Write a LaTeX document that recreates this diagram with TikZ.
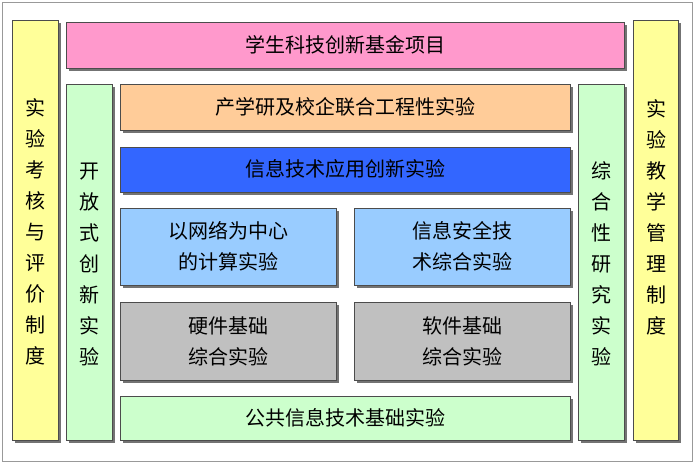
\documentclass[tikz,border=0pt]{standalone}
\usepackage{fontspec}
\setmainfont{Noto Sans CJK SC}
\usetikzlibrary{shadows}
\tikzset{every picture/.style={line width=0.75pt}}
\tikzset{
  blk/.style={draw=black!70,line width=0.6pt,drop shadow={shadow xshift=3pt,shadow yshift=-3pt,fill=black!55,opacity=1}},
  lbl/.style={inner sep=0pt,align=center,font=\fontsize{20}{31}\selectfont},
}
\begin{document}
\begin{tikzpicture}[x=1pt,y=1pt,yscale=-1,xscale=1]
		\useasboundingbox (0,0) rectangle (695,464);
		\draw[black!40,line width=0.8pt,fill=white] (2,2) rectangle (692,461);
		
		%side bars
		\draw[blk,fill={rgb,255:red,255;green,255;blue,153}] (12,20) rectangle (58,440);
		\draw[blk,fill={rgb,255:red,255;green,255;blue,153}] (633,20) rectangle (678,440);
		\draw[blk,fill={rgb,255:red,204;green,255;blue,204}] (66,84) rectangle (112,440);
		\draw[blk,fill={rgb,255:red,204;green,255;blue,204}] (578,84) rectangle (624,440);
		%horizontal bars
		\draw[blk,fill={rgb,255:red,255;green,153;blue,204}] (66,22) rectangle (624,68);
		\draw[blk,fill={rgb,255:red,255;green,204;blue,153}] (120,84) rectangle (570,130);
		\draw[blk,fill={rgb,255:red,51;green,102;blue,255}] (120,147) rectangle (570,192);
		\draw[blk,fill={rgb,255:red,153;green,204;blue,255}] (120,208) rectangle (336,285);
		\draw[blk,fill={rgb,255:red,153;green,204;blue,255}] (354,208) rectangle (570,285);
		\draw[blk,fill={rgb,255:red,192;green,192;blue,192}] (120,302) rectangle (336,380);
		\draw[blk,fill={rgb,255:red,192;green,192;blue,192}] (354,302) rectangle (570,380);
		\draw[blk,fill={rgb,255:red,204;green,255;blue,204}] (120,396) rectangle (570,440);
		
		\node[lbl] (kh) at (35,232) {实\\验\\考\\核\\与\\评\\价\\制\\度};
		\node[lbl] (gl) at (656,217) {实\\验\\教\\学\\管\\理\\制\\度};
		\node[lbl] (kf) at (89,264) {开\\放\\式\\创\\新\\实\\验};
		\node[lbl] (zh) at (601,264) {综\\合\\性\\研\\究\\实\\验};
		\node[lbl] (jj) at (345,45) {学生科技创新基金项目};
		\node[lbl] (cx) at (345,107) {产学研及校企联合工程性实验};
		\node[lbl] (yy) at (345,169) {信息技术应用创新实验};
		\node[lbl] (wl) at (228,246) {以网络为中心\\的计算实验};
		\node[lbl] (aq) at (462,246) {信息安全技\\术综合实验};
		\node[lbl] (yj) at (228,341) {硬件基础\\综合实验};
		\node[lbl] (rj) at (462,341) {软件基础\\综合实验};
		\node[lbl] (gg) at (345,418) {公共信息技术基础实验};
\end{tikzpicture}
\end{document}
